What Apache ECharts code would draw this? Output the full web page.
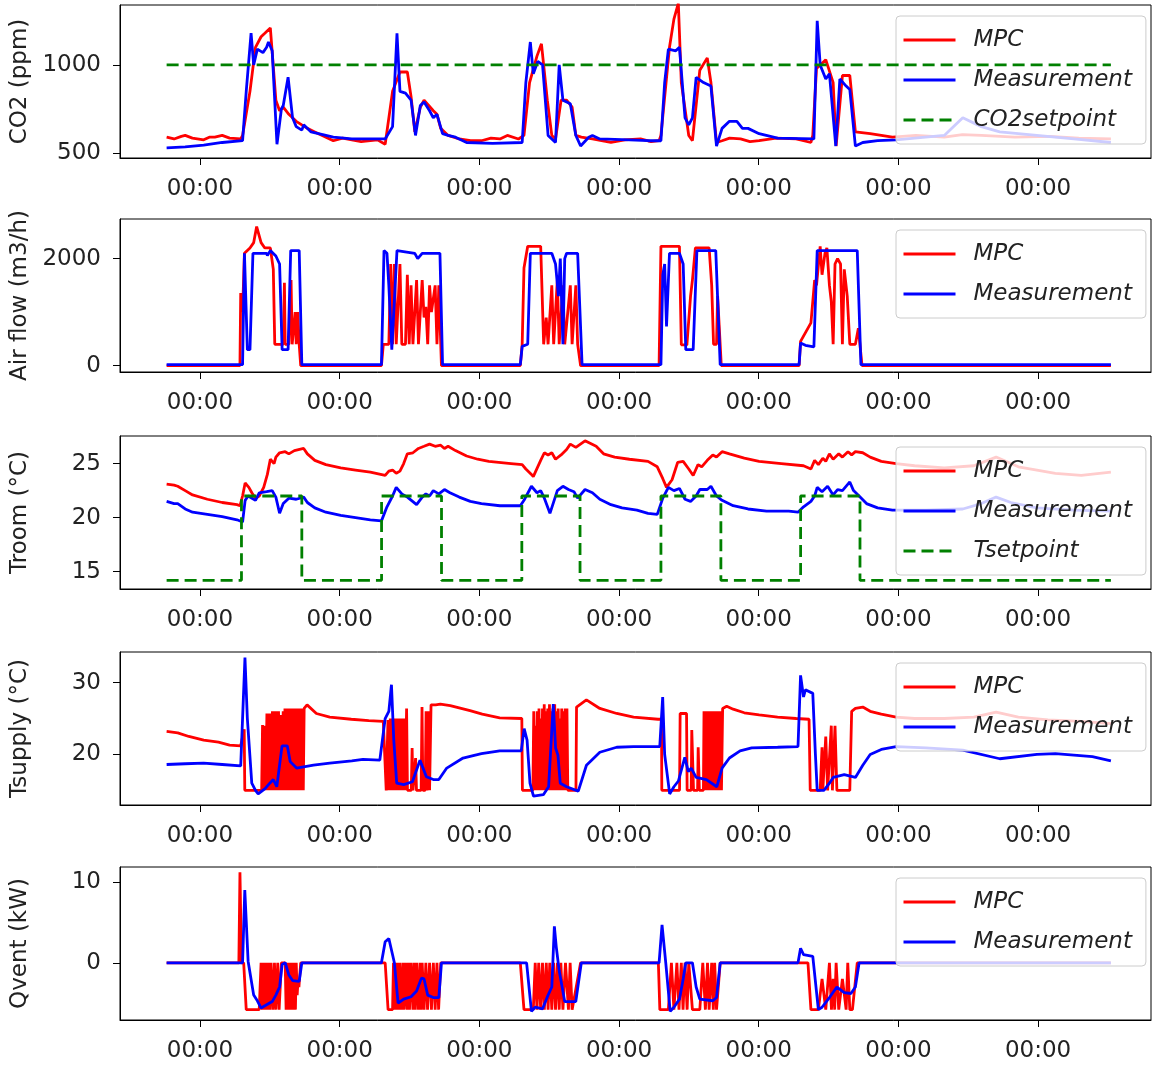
<!DOCTYPE html>
<html>
<head>
<meta charset="utf-8">
<script src="https://cdn.jsdelivr.net/npm/echarts@6/dist/echarts.min.js"></script>
<style>
  html, body { margin: 0; padding: 0; background: #fff; }
  #chart { width: 1154px; height: 1065px; }
</style>
</head>
<body>
<div id="chart"></div>
<script>
// time in hours, 0 = first midnight tick
var dayTicks = [0, 24, 48, 72, 96, 120, 144]

var co2Ticks = [500, 1000]
var airTicks = [0, 2000]
var troomTicks = [15, 20, 25]
var tsupTicks = [20, 30]
var qventTicks = [0, 10]

var co2Mpc = [[-5.73,590],[-4.45,580],[-3.2,595],[-2.54,600],[-1.3,585],[0.64,575],[1.6,590],[2.55,590],[3.82,600],[5.1,585],[7.0,580],[7.32,600],
  [8.59,850],[9.54,1100],[10.5,1160],[11.14,1180],[12.09,1210],[12.41,1200],[13.04,800],[13.68,740],[14.31,760],[15.27,720],[16.54,680],
  [18.45,640],[19.73,620],[21.0,600],[22.91,570],[24.5,585],[26.09,575],[27.7,565],[29.27,570],[30.5,575],[31.82,550],[33.09,850],[34.36,960],
  [35.63,960],[36.27,820],[36.91,620],[37.86,760],[38.5,800],[40.09,740],[40.72,720],[41.36,640],[42.63,600],[44.54,580],[46.5,570],
  [48.36,570],[50.0,585],[51.54,580],[52.81,600],[54.72,580],[55.67,600],[56.63,900],[57.9,1050],[58.67,1120],[59.68,800],[60.45,600],
  [61.09,580],[62.04,800],[62.99,800],[63.94,760],[64.58,600],[65.52,590],[67.43,580],[69.0,570],[70.61,560],[73.0,575],[75.7,580],
  [77.5,565],[78.88,570],[79.2,600],[80.67,1100],[81.43,1260],[82.19,1350],[82.7,900],[83.98,600],[84.61,570],[85.88,970],[87.16,1040],
  [87.79,900],[88.75,560],[89.7,570],[91.0,585],[92.88,580],[94.5,565],[96.07,570],[99.0,585],[102.43,580],[104.97,560],[105.29,600],
  [105.93,980],[107.52,1030],[108.79,900],[109.3,540],[110.38,940],[111.65,940],[112.61,620],[115.15,610],[118.97,590],[123.0,600],
  [127.88,590],[131.0,605],[134.24,600],[140.0,590],[146.0,595],[151.0,585],[156.51,580]]
var co2Meas = [[-5.73,530],[-2.54,535],[0.64,545],[3.82,560],[7.32,570],[7.95,850],[8.78,1180],[9.23,1000],[9.86,1090],[10.82,1070],
  [11.45,1100],[11.77,1130],[12.41,1080],[13.23,550],[13.99,750],[14.31,770],[15.14,930],[15.91,700],[16.54,650],[17.5,630],[17.82,660],
  [19.09,620],[22.91,590],[26.09,580],[31.82,580],[32.13,590],[33.09,650],[33.85,1180],[34.36,850],[35.31,840],[36.27,800],[37.03,600],
  [37.86,770],[38.5,790],[39.45,740],[40.09,700],[40.72,720],[41.68,610],[42.63,600],[43.9,590],[45.81,560],[50.27,555],[55.36,560],
  [55.99,900],[56.76,1130],[57.27,950],[58.03,1020],[58.86,1000],[59.81,600],[61.09,560],[61.72,1000],[62.36,800],[63.63,780],[64.58,600],
  [65.4,540],[66.8,590],[67.43,600],[68.7,580],[73.79,575],[76.98,570],[79.2,570],[79.84,900],[80.48,1090],[81.75,1080],[82.38,1100],
  [83.34,700],[83.98,660],[84.61,700],[85.25,930],[86.52,900],[87.79,880],[88.75,540],[89.7,640],[90.97,680],[92.25,680],[93.2,640],
  [94.16,640],[96.07,610],[99.25,585],[105.48,580],[106.05,1250],[106.56,1000],[106.88,1000],[107.52,920],[108.15,950],[109.24,540],
  [109.94,920],[111.02,880],[111.65,860],[112.61,540],[113.88,560],[116.43,570],[119.61,575],[127.88,600],[131.06,700],[133.61,660],
  [134.24,650],[137.42,620],[143.79,600],[150.15,580],[156.51,560]]
var co2Setpoint = [[-5.73,1000],[156.51,1000]]

var airMpc = [[-5.73,0],[6.87,0],[7.0,1360],[7.32,1000],[7.64,2100],[8.59,2200],[9.23,2300],[9.74,2600],[10.5,2300],[11.14,2200],
  [12.09,2200],[12.6,1800],[12.85,400],[14.31,400],[14.51,1550],[14.64,400],[15.27,400],[15.65,1600],[15.84,400],[16.35,1000],[16.54,400],
  [16.8,1000],[17.05,400],[17.31,0],[31.18,0],[31.5,400],[32.45,400],[32.77,1900],[33.09,400],[33.4,1900],[33.72,400],[34.36,1900],
  [34.68,400],[35.31,400],[35.63,1700],[35.95,400],[36.27,1500],[36.59,400],[37.22,1600],[37.54,400],[38.18,1600],[38.5,900],[38.81,1100],
  [39.13,400],[39.45,1500],[39.77,1000],[40.41,1500],[40.72,400],[41.04,1500],[41.49,0],[55.04,0],[55.36,400],[55.67,1825],[56.31,2230],
  [58.54,2230],[59.05,400],[59.49,900],[59.81,400],[60.45,1500],[60.77,400],[61.4,1600],[61.72,400],[62.36,1500],[62.67,400],[63.63,1500],
  [63.94,400],[64.58,1500],[64.89,400],[65.4,0],[78.88,0],[79.2,2230],[82.38,2230],[82.7,390],[83.66,390],[84.29,1300],[84.61,1600],
  [85.12,2200],[87.48,2200],[87.92,1500],[88.24,400],[88.75,400],[88.94,1300],[89.57,0],[102.94,0],[103.19,455],[104.97,800],[105.61,1600],
  [105.93,1500],[106.56,2230],[106.88,1700],[107.39,2100],[107.71,2200],[108.15,1500],[108.47,1200],[108.79,400],[109.11,1900],
  [109.55,2000],[110.06,1900],[110.38,400],[110.7,1800],[111.21,1300],[111.65,400],[112.61,400],[113.12,700],[113.75,0],[156.51,0]]
var airMeas = [[-5.73,20],[7.32,20],[7.64,2100],[8.14,300],[8.59,300],[9.1,2100],[11.45,2100],[11.58,2060],[12.09,2150],[13.04,2050],
  [13.68,1900],[14.12,300],[15.14,300],[15.59,2150],[17.05,2150],[17.5,20],[31.18,20],[31.62,2150],[32.13,2100],[32.45,1500],[32.96,300],
  [33.21,300],[33.85,2150],[36.91,2100],[37.41,2000],[38.18,2100],[41.23,2100],[41.68,20],[55.04,20],[55.36,360],[56.31,400],[56.76,2100],
  [60.45,2100],[61.09,1900],[61.59,1300],[61.91,2000],[62.36,400],[62.67,2000],[62.99,2100],[64.89,2100],[65.65,20],[79.2,20],[79.52,1700],
  [79.84,1900],[80.16,735],[80.67,2100],[82.38,2100],[83.02,1900],[83.47,300],[84.74,300],[85.38,2150],[88.62,2150],[89.38,20],
  [102.94,20],[103.19,424],[104.02,380],[105.48,350],[106.05,2150],[112.93,2150],[113.56,20],[156.51,20]]

var troomMpc = [[-5.73,23.1],[-4.45,23.0],[-3.82,22.9],[-2.54,22.5],[-1.27,22.1],[1.27,21.7],[3.82,21.4],[6.36,21.2],[6.87,21.1],
  [7.32,22.0],[7.76,23.2],[8.4,22.8],[8.91,22.3],[9.54,21.8],[10.18,22.0],[10.95,22.8],[11.58,24.0],[12.09,25.4],[12.73,25.0],[13.04,25.6],
  [13.68,26.0],[14.64,26.1],[15.27,25.9],[16.22,26.2],[17.82,26.4],[18.45,25.9],[19.73,25.3],[21.63,24.9],[24.18,24.6],[26.72,24.4],
  [29.27,24.2],[31.82,23.9],[32.45,24.3],[33.09,24.4],[33.72,24.1],[34.36,24.3],[35.0,25.0],[35.63,25.9],[36.59,26.0],[37.54,26.4],
  [38.5,26.6],[39.45,26.8],[40.41,26.6],[41.36,26.7],[42.0,26.4],[42.63,26.6],[43.9,26.2],[45.81,25.7],[47.72,25.4],[49.63,25.2],
  [53.45,25.0],[55.36,24.9],[55.99,24.5],[56.95,24.0],[57.27,23.8],[58.54,25.3],[59.17,26.0],[59.81,25.8],[60.45,26.0],[61.09,25.4],
  [62.04,25.8],[62.99,26.3],[63.63,26.8],[64.58,26.5],[66.16,27.1],[68.07,26.6],[69.34,25.9],[71.25,25.6],[73.79,25.4],[76.98,25.2],
  [78.57,24.7],[79.52,23.6],[80.16,22.8],[81.11,23.5],[82.07,25.1],[83.02,25.2],[83.98,24.5],[84.74,23.9],[85.57,24.9],[86.2,24.7],
  [87.16,25.3],[88.11,25.8],[88.75,25.6],[89.7,26.1],[90.97,25.9],[93.52,25.5],[96.07,25.2],[99.88,25.0],[103.7,24.8],[104.97,24.5],
  [105.61,25.3],[106.25,24.9],[107.01,25.5],[107.52,25.2],[108.15,25.9],[108.79,25.4],[109.75,25.9],[110.38,25.6],[111.34,26.1],
  [111.97,25.8],[112.61,26.1],[113.88,26.0],[115.15,25.6],[117.06,25.2],[119.61,25.0],[122.79,24.8],[127.88,24.6],[132.97,24.8],
  [136.79,25.6],[140.61,24.7],[146.97,24.1],[151.42,23.9],[156.51,24.2]]
var troomMeas = [[-5.73,21.5],[-4.45,21.3],[-3.82,21.3],[-2.54,20.8],[-1.27,20.5],[1.27,20.3],[3.82,20.1],[6.36,19.8],[7.32,19.6],
  [7.76,21.6],[8.27,22.0],[9.54,21.6],[10.18,22.3],[11.45,22.4],[12.41,22.5],[13.04,21.9],[13.68,20.4],[14.31,21.3],[15.27,21.8],
  [16.54,21.7],[17.82,21.9],[18.45,21.4],[19.73,20.9],[21.63,20.5],[24.18,20.2],[26.72,20.0],[29.27,19.8],[31.18,19.7],[32.13,21.0],
  [33.09,22.0],[33.72,22.8],[34.68,22.2],[35.63,21.9],[37.22,21.2],[38.18,21.9],[38.81,22.2],[39.45,22.0],[40.09,22.5],[41.04,22.2],
  [42.0,22.6],[42.95,22.3],[44.54,21.9],[46.45,21.5],[48.36,21.3],[51.54,21.1],[55.04,21.1],[55.67,21.6],[56.95,22.9],[57.9,22.3],
  [58.54,22.5],[59.17,21.8],[60.13,20.4],[61.4,22.5],[62.36,22.9],[63.31,22.6],[64.26,22.4],[64.89,21.8],[66.16,22.6],[67.43,22.3],
  [68.7,21.7],[70.61,21.2],[72.52,20.9],[75.07,20.7],[76.98,20.4],[78.57,20.3],[79.52,21.8],[80.48,22.8],[81.43,22.5],[82.38,22.7],
  [83.34,21.7],[84.29,21.5],[85.25,22.0],[85.88,22.6],[87.16,22.6],[87.79,22.9],[88.75,22.0],[89.7,21.6],[91.61,21.1],[94.16,20.8],
  [97.34,20.6],[101.16,20.6],[102.75,20.5],[103.7,21.0],[104.97,21.5],[105.61,22.0],[106.05,22.8],[106.88,22.4],[107.84,22.9],
  [108.79,22.1],[109.55,22.6],[110.38,22.5],[111.65,23.3],[112.29,22.5],[113.25,22.0],[114.52,21.3],[116.43,20.9],[118.97,20.7],
  [124.7,20.7],[131.06,20.8],[134.24,21.3],[136.79,21.9],[139.33,21.4],[143.79,20.9],[150.15,20.7],[156.51,20.6]]
var tSetpoint = [[-5.73,14.2],[7.13,14.2],[7.13,22],[17.5,22],[17.5,14.2],[31.2,14.2],[31.2,22],[41.5,22],[41.5,14.2],[55.3,14.2],
  [55.3,22],[65.3,22],[65.3,14.2],[79.2,14.2],[79.2,22],[89.5,22],[89.5,14.2],[103.2,14.2],[103.2,22],[113.4,22],[113.4,14.2],[156.51,14.2]]

var tsupMpc = [[-5.73,23.2],[-3.82,23.0],[-1.91,22.5],[0.64,22.0],[3.18,21.7],[5.09,21.3],[7.0,21.2],[7.32,21.2],[7.6,23.5],[7.7,15],
  [10.6,15],[10.75,24.1],[10.9,15],[11.1,24],[11.3,15],[11.5,25.7],[11.65,15],[11.8,25.7],[11.95,15],[12.1,25.7],[12.25,15],[12.45,26],
  [12.6,15],[12.8,26],[12.95,15],[13.15,26],[13.3,15],[13.5,26],[13.65,15],[13.9,25.5],[14.05,15],[14.3,26],[14.45,15],[14.6,26.4],
  [14.75,15],[14.9,26.4],[15.05,15],[15.2,26.4],[15.35,15],[15.5,26.4],[15.65,15],[15.8,26.4],[15.95,15],[16.1,26.4],[16.25,15],
  [16.4,26.4],[16.55,15],[16.7,26.4],[16.85,15],[17.0,26.4],[17.15,15],[17.3,26.4],[17.45,15],[17.6,26.4],[17.75,15],[17.9,26.4],
  [18.4,26.9],[20.0,25.7],[22.3,25.2],[26.0,24.9],[29.0,24.7],[31.5,24.6],[31.82,24.5],[32.0,15],[32.3,24.8],[32.45,15],[32.7,25],[32.85,15],
  [33.1,25],[33.25,15],[33.5,25],[33.65,15],[33.9,25],[34.05,15],[34.3,25],[34.45,15],[34.7,25],[34.85,15],[35.1,25],[35.25,15],[35.5,26.4],
  [35.65,15],[36.3,15],[36.45,20.9],[36.6,15],[36.9,15],[37.05,19.5],[37.2,15],[38.0,15],[38.15,26.6],[38.3,15],[38.7,15],[38.85,26],
  [39.0,15],[39.3,26],[39.45,15],[39.7,26.9],[40.5,26.9],[41.3,27.0],[43.0,26.8],[46.4,26.1],[48.5,25.6],[51.5,25.1],[55.3,25.0],[55.4,15],
  [57.2,15],[57.35,26],[57.5,15],[57.65,24],[57.8,15],[57.95,26],[58.1,15],[58.25,26.4],[58.4,15],[58.55,25],[58.7,15],[58.85,26.4],
  [59.0,15],[59.15,27],[59.3,15],[59.45,26],[59.6,15],[59.75,26.4],[59.9,15],[60.05,27],[60.2,15],[60.35,26],[60.5,15],[60.65,26.4],
  [60.8,15],[60.95,27],[61.1,15],[61.25,26],[61.4,15],[61.55,26.4],[61.7,15],[61.85,25],[62.0,15],[62.15,26.4],[62.3,15],[62.45,26],
  [62.6,15],[62.75,26.4],[62.9,15],[63.05,26.4],[63.2,15],[64.6,15],[64.7,26.6],[66.4,27.6],[68.7,26.4],[71.6,25.7],[74.5,25.2],
  [78.7,24.9],[79.3,24.9],[79.35,15],[82.4,15],[82.5,25.7],[83.6,25.7],[83.7,15],[84.4,15],[84.5,23.4],[84.8,15],[85.5,15],[85.6,21],
  [85.8,15],[86.5,15],[86.6,26],[86.8,15],[87.0,26],[87.2,15],[87.4,26],[87.6,15],[87.8,26],[88.0,15],[88.2,26],[88.4,15],[88.6,26],
  [88.8,15],[89.0,26],[89.2,15],[89.4,26],[89.6,15],[89.8,26.4],[90.5,26.7],[91.61,26.3],[93.52,25.8],[96.07,25.5],[99.25,25.2],
  [102.43,25.0],[104.65,24.9],[104.85,15],[106.56,15],[106.88,21],[107.01,15],[107.52,22.5],[107.84,15],[108.47,24],[108.66,15],
  [109.11,24],[109.43,15],[111.65,15],[111.97,26],[112.61,26.4],[113.88,26.6],[115.15,26.0],[117.06,25.6],[119.61,25.2],[122.79,25.0],
  [127.88,25.0],[132.97,25.2],[136.79,25.9],[140.61,25.2],[145.7,24.8],[151.42,24.6],[156.51,24.3]]
var tsupMeas = [[-5.73,18.6],[-2.54,18.7],[0.64,18.8],[3.82,18.6],[7.0,18.4],[7.32,18.3],[7.73,33.5],[8.14,25],[8.9,16.0],[9.54,15.0],
  [10.0,14.5],[11.14,15.2],[12.0,16.0],[12.6,16.5],[13.2,15.5],[14.1,21.2],[15.0,21.2],[15.5,19.0],[16.6,18.1],[19.5,18.5],[22.3,18.8],
  [26.09,19.1],[28.0,19.3],[30.9,19.2],[31.2,19.3],[31.82,25],[32.45,26],[32.9,29.7],[33.3,22],[33.8,16],[35.0,15.8],[36.5,16.2],[37.8,19.2],
  [38.9,16.9],[40.09,16.5],[41.04,16.5],[42.4,18.1],[45.2,19.5],[48.36,20.1],[51.5,20.5],[55.2,20.5],[55.7,23.6],[56.2,22],[56.7,16],
  [57.3,14.2],[59.0,14.4],[59.9,15.5],[60.7,27],[61.1,20.9],[61.5,19.9],[61.9,16],[62.99,15.5],[65.0,14.9],[66.4,18.5],[68.7,20.3],
  [71.6,21.0],[74.5,21.1],[79.0,21.1],[79.5,28],[79.84,20],[80.7,14.5],[81.43,15.5],[82.2,16.3],[83.3,19.6],[83.9,17.6],[84.4,18.1],
  [85.25,16.8],[87.0,16.5],[88.8,15.5],[89.7,18.1],[90.97,19.5],[92.8,20.5],[94.79,20.9],[99.25,21.0],[102.75,21.1],[103.19,31],
  [103.7,28],[104.02,29],[105.29,28.5],[105.74,20],[106.05,15],[107.2,15],[108.15,16],[108.79,16.8],[110.7,17.2],[112.61,16.8],
  [113.88,18.5],[115.15,20],[117.06,20.7],[119.61,21.1],[124.7,20.9],[131.06,20.6],[137.42,19.4],[143.79,20.0],[146.97,20.1],
  [153.33,19.7],[156.51,19.1]]

var qventMpc = [[-5.73,0],[6.68,0],[6.87,11.2],[7.13,0],[7.51,0],[7.95,-5.8],[10.18,-5.8],[10.5,0],[10.7,-5.8],[10.9,0],[11.14,-5.8],
  [11.35,0],[11.55,-5.8],[11.77,0],[12.0,-5.8],[12.22,0],[12.53,-5.8],[12.8,0],[13.04,-5.8],[13.36,0],[13.6,-5.8],[13.99,0],[14.64,0],
  [14.8,-5.8],[14.95,0],[15.1,-5.8],[15.27,0],[15.45,-5.8],[15.59,0],[15.75,-5.8],[15.91,0],[16.05,-5.8],[16.22,0],[16.4,-5.8],[16.54,0],
  [16.7,-4],[16.86,-2],[17.0,-3],[17.31,0],[31.82,0],[32.32,-5.8],[33.09,-5.8],[33.25,0],[33.4,-5.8],[33.6,0],[33.72,-5.8],[34.0,0],
  [34.2,-5.8],[34.36,0],[34.68,-5.8],[34.9,0],[35.1,-5.8],[35.31,0],[35.63,-5.8],[35.8,0],[36.0,-5.8],[36.27,0],[36.59,-5.8],[36.8,0],
  [37.0,-5.8],[37.22,0],[37.54,-5.8],[37.8,0],[38.0,-5.8],[38.18,0],[38.5,-5.8],[38.81,0],[39.1,-5.8],[39.45,0],[39.77,-5.8],[40.1,0],
  [40.41,-5.8],[40.72,0],[41.0,-5.8],[41.36,0],[55.04,0],[55.67,-5.8],[57.27,-5.8],[57.6,0],[57.9,-5.8],[58.2,0],[58.54,-5.8],[58.85,0],
  [59.17,-5.8],[59.5,0],[59.81,-5.8],[60.1,0],[60.45,-5.8],[60.75,0],[61.09,-5.8],[61.4,0],[61.72,-5.8],[62.0,0],[62.36,-5.8],[62.8,0],
  [63.31,-5.8],[63.6,0],[63.94,-5.8],[64.26,-5.8],[65.4,0],[78.76,0],[79.01,-5.8],[80.48,-5.8],[81.0,0],[81.43,-5.8],[81.94,0],
  [82.3,-5.8],[82.7,0],[83.0,-5.8],[83.34,0],[83.7,-5.8],[83.98,0],[84.61,-5.8],[85.88,-5.8],[86.39,0],[86.84,-5.8],[87.2,0],[87.48,-5.8],
  [87.92,0],[88.2,-5.8],[88.43,0],[88.75,-5.8],[89.38,0],[104.46,0],[104.97,-5.8],[106.25,-5.8],[106.88,-2],[107.52,-5.8],[108.15,0],
  [108.5,-5.8],[108.79,-2],[109.05,-5.8],[109.3,0],[109.75,-5.8],[110.38,-2],[111.02,-5.8],[111.3,0],[111.65,-5.8],[112.1,-5.8],
  [112.93,0],[156.51,0]]
var qventMeas = [[-5.73,0],[7.32,0],[7.7,9.0],[8.27,0.2],[8.59,0],[9.23,-4.0],[9.86,-4.7],[10.5,-5.6],[11.45,-5.2],[12.41,-4.8],
  [13.04,-4.0],[13.68,-3.0],[14.12,-0.2],[14.64,0],[15.27,-1.5],[15.91,-2.2],[17.05,-2.3],[17.5,0],[31.18,0],[31.82,2.6],[32.45,3.0],
  [33.09,1.0],[33.4,0],[34.04,-5.0],[35.0,-4.5],[36.27,-4.2],[37.22,-3.5],[38.05,-1.9],[38.5,-2.0],[39.13,-4.0],[40.09,-4.3],[41.04,-4.3],
  [41.49,0],[55.36,0],[55.67,0.2],[56.12,0],[56.95,-6.0],[57.58,-5.5],[58.86,-5.7],[59.81,-4.0],[60.45,-3.0],[60.89,4.5],[61.21,2.0],
  [61.72,-1.0],[62.67,-4.8],[63.94,-4.8],[64.57,-4.8],[65.52,0],[78.88,0],[79.39,4.7],[80.03,0],[80.79,-6.0],[81.43,-5.5],[82.38,-4.5],
  [83.02,-2],[83.47,0],[84.61,0],[85.25,-3],[85.88,-4.5],[88.11,-4.7],[88.75,-4.3],[89.38,0],[102.75,0],[103.19,1.8],[103.7,1.0],
  [105.29,0.8],[106.25,-5.8],[106.88,-5.5],[108.15,-4.3],[109.43,-3.0],[110.7,-3.7],[111.84,-3.8],[112.61,-3.0],[113.25,0],[156.51,0]]

var RED = '#ff0000'
var BLUE = '#0000ff'
var GREEN = '#008000'
var FONT = 'DejaVu Sans'
var TEXT = '#222222'

var panels = [
  { title: 'CO2 (ppm)', min: 472, max: 1340, ticks: co2Ticks,
    lines: [['MPC', co2Mpc, RED], ['Measurement', co2Meas, BLUE], ['CO2setpoint', co2Setpoint, GREEN, true]] },
  { title: 'Air flow (m3/h)', min: -118, max: 2741, ticks: airTicks,
    lines: [['MPC', airMpc, RED], ['Measurement', airMeas, BLUE]] },
  { title: 'Troom (°C)', min: 13.4, max: 27.55, ticks: troomTicks,
    lines: [['MPC', troomMpc, RED], ['Measurement', troomMeas, BLUE], ['Tsetpoint', tSetpoint, GREEN, true]] },
  { title: 'Tsupply (°C)', min: 12.96, max: 34.26, ticks: tsupTicks,
    lines: [['MPC', tsupMpc, RED], ['Measurement', tsupMeas, BLUE]] },
  { title: 'Qvent (kW)', min: -7.08, max: 11.85, ticks: qventTicks,
    lines: [['MPC', qventMpc, RED], ['Measurement', qventMeas, BLUE]] }
]
var gridTops = [5, 219, 436, 652, 867]

var chart = echarts.init(document.getElementById('chart'))

var option = {
  animation: false,
  backgroundColor: '#fff',
  grid: [],
  xAxis: [],
  yAxis: [],
  legend: [],
  series: []
}

panels.forEach(function (p, i) {
  option.grid.push({
    left: 120, right: 3, top: gridTops[i], height: 153,
    containLabel: false, outerBoundsMode: 'none',
    show: true, borderColor: '#000', borderWidth: 1, backgroundColor: 'transparent'
  })
  option.xAxis.push({
    type: 'value', gridIndex: i, min: -13.74, max: 163.4,
    axisLine: { show: true, onZero: false, lineStyle: { color: '#000', width: 1 } },
    axisTick: { show: true, customValues: dayTicks, length: 7, lineStyle: { color: '#000' } },
    axisLabel: {
      customValues: dayTicks, margin: 20, fontSize: 23, fontFamily: FONT, color: TEXT,
      formatter: function () { return '00:00' }
    },
    splitLine: { show: false }
  })
  option.yAxis.push({
    type: 'value', gridIndex: i, min: p.min, max: p.max,
    name: p.title, nameLocation: 'middle', nameGap: 88,
    nameTextStyle: { fontSize: 23, fontFamily: FONT, color: TEXT },
    axisLine: { show: true, onZero: false, lineStyle: { color: '#000', width: 1 } },
    axisTick: { show: true, customValues: p.ticks, length: 7, lineStyle: { color: '#000' } },
    axisLabel: {
      customValues: p.ticks, margin: 19, fontSize: 23, fontFamily: FONT, color: TEXT,
      formatter: function (v) { return String(v) }
    },
    splitLine: { show: false }
  })
  option.legend.push({
    orient: 'vertical', left: 896, top: gridTops[i] + 11,
    data: p.lines.map(function (l) { return l[0] }),
    itemWidth: 52, itemHeight: 14, itemGap: 8,
    padding: [8, 14, 8, 6],
    backgroundColor: 'rgba(255,255,255,0.8)',
    borderColor: '#cccccc', borderWidth: 1, borderRadius: 4,
    selectedMode: false,
    itemStyle: { opacity: 0, borderWidth: 0 },
    lineStyle: { width: 3 },
    textStyle: {
      fontSize: 23, fontStyle: 'italic', fontFamily: FONT, color: TEXT,
      lineHeight: 32, padding: [0, 0, 0, 13]
    }
  })
  p.lines.forEach(function (l, k) {
    option.series.push({
      name: l[0], type: 'line', xAxisIndex: i, yAxisIndex: i,
      data: l[1], showSymbol: false, symbol: 'none', z: 2 + k,
      itemStyle: { color: l[2] },
      lineStyle: { color: l[2], width: 2.8, type: l[3] ? [12, 6] : 'solid' }
    })
  })
})

chart.setOption(option)
</script>
</body>
</html>
